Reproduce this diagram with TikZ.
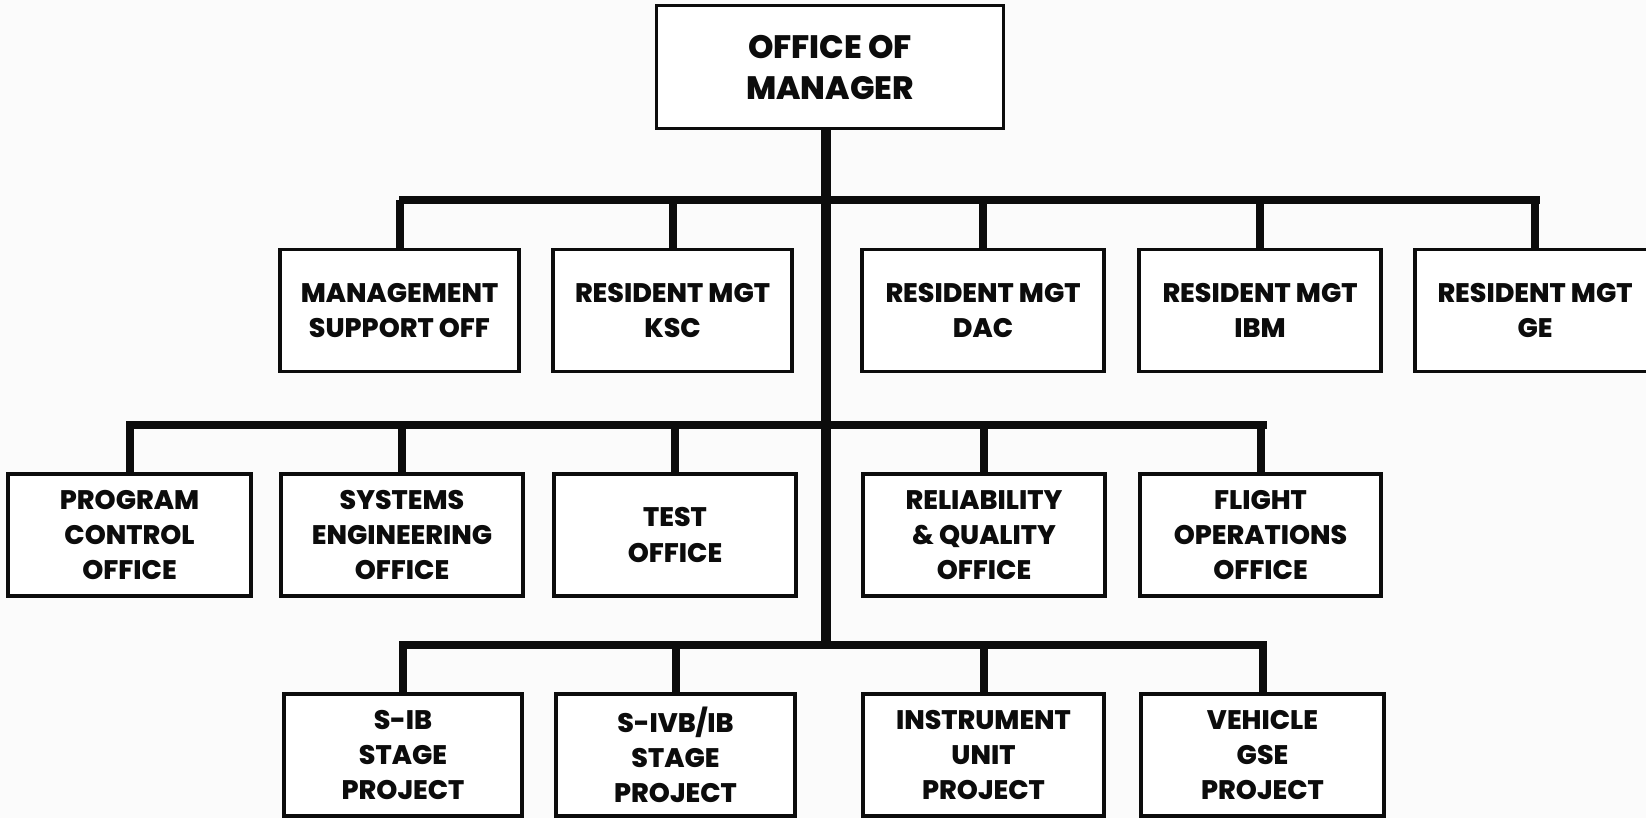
\documentclass[tikz,border=0pt]{standalone}
\usepackage{fontspec}
\setmainfont{Poppins}[BoldFont={Poppins ExtraBold}]
\definecolor{paper}{RGB}{251,251,251}
\definecolor{ink}{RGB}{12,12,12}
\begin{document}
\begin{tikzpicture}[x=0.5pt,y=-0.5pt,
  orgbox/.style={draw=ink,line width=1.8pt,fill=white,align=center,inner sep=0pt,
    minimum width=#1*0.5pt,minimum height=122*0.5pt,
    font=\bfseries\fontsize{13.4}{17.5}\selectfont,text=ink},
  orgbox/.default=241,
  headbox/.style={draw=ink,line width=1.8pt,fill=white,align=center,inner sep=0pt,
    minimum width=347*0.5pt,minimum height=123*0.5pt,
    font=\bfseries\fontsize{16.2}{20.5}\selectfont,text=ink},
  bar/.style={draw=ink,line width=4.4pt},
  trunk/.style={draw=ink,line width=5pt},
  stub/.style={draw=ink,line width=4pt}]
\fill[paper] (0,0) rectangle (1646,818);
\useasboundingbox (0,0) rectangle (1646,818);

% head of the organisation
\node[headbox] (mgr) at (830,67) {OFFICE OF\\MANAGER};

% first tier
\node[orgbox=239] (ms)  at (399.5,310.5) {MANAGEMENT\\SUPPORT OFF};
\node[orgbox=239] (ksc) at (672.5,310.5) {RESIDENT MGT\\KSC};
\node[orgbox=242] (dac) at (983,310.5)   {RESIDENT MGT\\DAC};
\node[orgbox=242] (ibm) at (1260,310.5)  {RESIDENT MGT\\IBM};
\node[orgbox=240] (ge)  at (1535,310.5)  {RESIDENT MGT\\GE};

% second tier
\node[orgbox=243] (pco)  at (129.5,535) {PROGRAM\\CONTROL\\OFFICE};
\node[orgbox=242] (seo)  at (402,535)   {SYSTEMS\\ENGINEERING\\OFFICE};
\node[orgbox=242] (test) at (675,535)   {TEST\\OFFICE};
\node[orgbox=242] (rqo)  at (984,535)   {RELIABILITY\\\& QUALITY\\OFFICE};
\node[orgbox=241] (foo)  at (1260.5,535) {FLIGHT\\OPERATIONS\\OFFICE};

% third tier
\node[orgbox=238] (sib)  at (403,755)    {S-IB\\STAGE\\PROJECT};
\node[orgbox=239] (sivb) at (675.5,755)  {S-IVB/IB\\STAGE\\PROJECT};
\node[orgbox=241] (iu)   at (983.5,755)  {INSTRUMENT\\UNIT\\PROJECT};
\node[orgbox=243] (gse)  at (1262.5,755) {VEHICLE\\GSE\\PROJECT};

% distribution bars
\coordinate (barA) at (826,200);
\coordinate (barB) at (826,425);
\coordinate (barC) at (826,645);
\coordinate (barAl) at (399,200);  \coordinate (barAr) at (1540,200);
\coordinate (barBl) at (126,425);  \coordinate (barBr) at (1267,425);
\coordinate (barCl) at (399,645);  \coordinate (barCr) at (1267,645);

\draw[trunk] (mgr.south -| barA) -- ([yshift=-1.1pt]barC);
\draw[bar] (barAl) -- (barAr);
\draw[bar] (barBl) -- (barBr);
\draw[bar] (barCl) -- (barCr);

% drops to each office
\foreach \n in {ms,ksc,dac,ibm,ge}   \draw[stub] (\n.north) -- (\n.north |- barA);
\foreach \n in {pco,seo,test,rqo,foo} \draw[stub] (\n.north) -- (\n.north |- barB);
\foreach \n in {sib,sivb,iu,gse}     \draw[stub] (\n.north) -- (\n.north |- barC);
\end{tikzpicture}
\end{document}
